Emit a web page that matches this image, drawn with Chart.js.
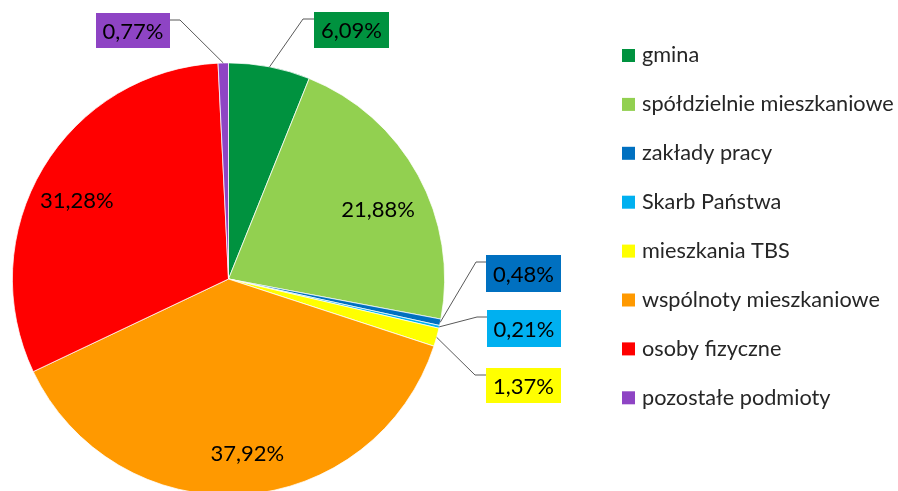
<!DOCTYPE html>
<html>
<head>
<meta charset="utf-8">
<script src="https://cdn.jsdelivr.net/npm/chart.js@4/dist/chart.umd.min.js"></script>
<style>
  html,body{margin:0;padding:0;background:#fff;}
  #wrap{width:898px;height:491px;overflow:hidden;position:relative;}
  canvas{display:block;}
</style>
</head>
<body>
<div id="wrap"><canvas id="c" width="898" height="520"></canvas></div>
<script>
const categories = ["gmina","spółdzielnie mieszkaniowe","zakłady pracy","Skarb Państwa","mieszkania TBS","wspólnoty mieszkaniowe","osoby fizyczne","pozostałe podmioty"];
const shares = [6.09, 21.88, 0.48, 0.21, 1.37, 37.92, 31.28, 0.77];
const colors = ["#00923F","#92D050","#0070C0","#00B0F0","#FFFF00","#FF9900","#FF0000","#8E44C4"];

const FONT = "Lato, 'Open Sans', sans-serif";
const fmt = v => v.toFixed(2).replace('.', ',') + '%';

// label placement config: inside labels (radius fraction, angle shift deg) or boxed callouts
const labelCfg = [
  {box:{x:314,y:12,w:75,h:36}, elbow:{x:303,y:19}},
  {inside:true, r:0.762, da:3.9},
  {box:{x:486,y:255,w:75,h:37}, elbow:{x:476,y:262}},
  {box:{x:487,y:310,w:74,h:37}, elbow:{x:477,y:317}},
  {box:{x:486,y:368,w:75,h:35}, elbow:{x:475,y:375}},
  {inside:true, r:0.813, da:-2.5},
  {inside:true, r:0.79, da:-3.6},
  {box:{x:96,y:13,w:74,h:35}, elbow:{x:180,y:20}, left:true}
];

const labelPlugin = {
  id:'labels',
  afterDatasetsDraw(chart){
    const ctx = chart.ctx;
    const meta = chart.getDatasetMeta(0);
    ctx.save();
    meta.data.forEach((arc, i) => {
      const cfg = labelCfg[i];
      const {x:cx, y:cy, startAngle, endAngle, outerRadius} = arc.getProps(['x','y','startAngle','endAngle','outerRadius'], true);
      const mid = (startAngle + endAngle)/2;
      const txt = fmt(shares[i]);
      ctx.font = "22px " + FONT;
      ctx.fillStyle = "#000";
      ctx.textAlign = "center";
      ctx.textBaseline = "middle";
      if (cfg.inside){
        const a = mid + cfg.da*Math.PI/180;
        const r = outerRadius*cfg.r;
        ctx.fillText(txt, cx + Math.cos(a)*r, cy + Math.sin(a)*r);
      } else {
        const ex = cx + Math.cos(mid)*outerRadius;
        const ey = cy + Math.sin(mid)*outerRadius;
        const b = cfg.box;
        ctx.strokeStyle = "#595959";
        ctx.lineWidth = 1;
        ctx.beginPath();
        ctx.moveTo(ex, ey);
        ctx.lineTo(cfg.elbow.x, cfg.elbow.y);
        ctx.lineTo(cfg.left ? b.x + b.w : b.x, cfg.elbow.y);
        ctx.stroke();
        ctx.fillStyle = colors[i];
        ctx.fillRect(b.x, b.y, b.w, b.h);
        ctx.fillStyle = "#000";
        ctx.fillText(txt, b.x + b.w/2, b.y + b.h/2 + 1);
      }
    });
    ctx.restore();
  }
};

const legendPlugin = {
  id:'customLegend',
  afterDraw(chart){
    const ctx = chart.ctx;
    ctx.save();
    ctx.font = "21.7px " + FONT;
    ctx.textBaseline = "middle";
    ctx.textAlign = "left";
    categories.forEach((name, i) => {
      const y = 55.5 + i*48.9;
      ctx.fillStyle = colors[i];
      ctx.fillRect(622, y - 6.5, 13, 13);
      ctx.fillStyle = "#262626";
      ctx.fillText(name, 642, y);
    });
    ctx.restore();
  }
};

new Chart(document.getElementById('c'), {
  type:'pie',
  data:{
    labels:categories,
    datasets:[{data:shares, backgroundColor:colors, borderColor:'#ffffff', borderWidth:0.75, hoverOffset:0}]
  },
  options:{
    responsive:false,
    devicePixelRatio:1,
    animation:false,
    rotation:0,
    layout:{padding:{left:12, right:453, top:62.5, bottom:24.5}},
    plugins:{legend:{display:false}, tooltip:{enabled:false}}
  },
  plugins:[labelPlugin, legendPlugin]
});
</script>
</body>
</html>
